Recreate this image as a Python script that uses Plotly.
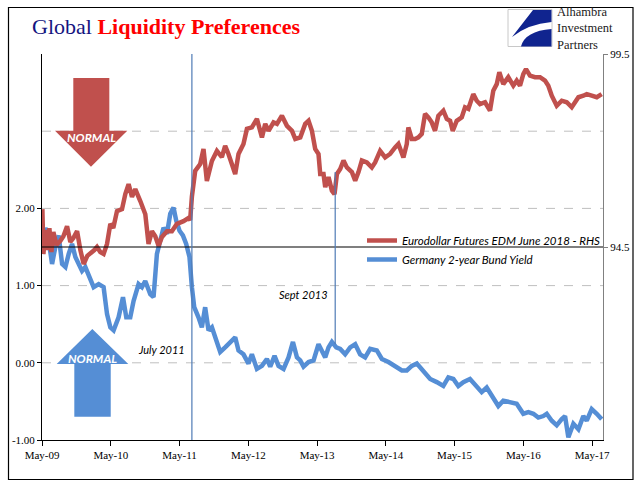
import pandas as pd
import plotly.graph_objects as go

# ---------------- data (decimal years -> values) ----------------
red_t = [2009.333, 2009.348, 2009.377, 2009.406, 2009.435, 2009.464, 2009.493, 2009.537, 2009.595, 2009.639,
         2009.692, 2009.740, 2009.784, 2009.838, 2009.886, 2009.934, 2009.987, 2010.031, 2010.089, 2010.128,
         2010.176, 2010.224, 2010.274, 2010.322, 2010.365, 2010.419, 2010.492, 2010.540, 2010.588, 2010.637,
         2010.685, 2010.758, 2010.831, 2010.878, 2010.928, 2010.976, 2011.024, 2011.073, 2011.146, 2011.218,
         2011.291, 2011.387, 2011.460, 2011.484, 2011.509, 2011.557, 2011.630, 2011.678, 2011.727, 2011.800,
         2011.873, 2011.945, 2011.993, 2012.041, 2012.139, 2012.187, 2012.259, 2012.309, 2012.381, 2012.454,
         2012.527, 2012.575, 2012.623, 2012.695, 2012.745, 2012.817, 2012.890, 2012.963, 2013.011, 2013.084,
         2013.156, 2013.204, 2013.253, 2013.301, 2013.349, 2013.374, 2013.422, 2013.447, 2013.495, 2013.544,
         2013.582, 2013.617, 2013.665, 2013.713, 2013.762, 2013.835, 2013.883, 2013.931, 2013.980, 2014.053,
         2014.125, 2014.173, 2014.246, 2014.319, 2014.391, 2014.464, 2014.512, 2014.585, 2014.634, 2014.657,
         2014.707, 2014.756, 2014.803, 2014.852, 2014.900, 2014.948, 2014.997, 2015.045, 2015.093, 2015.166,
         2015.216, 2015.264, 2015.303, 2015.361, 2015.434, 2015.482, 2015.530, 2015.602, 2015.652, 2015.700,
         2015.773, 2015.845, 2015.893, 2015.943, 2015.981, 2016.038, 2016.111, 2016.184, 2016.233, 2016.281,
         2016.329, 2016.368, 2016.426, 2016.499, 2016.572, 2016.644, 2016.692, 2016.742, 2016.814, 2016.887,
         2016.960, 2017.032, 2017.081, 2017.129, 2017.201, 2017.250, 2017.323, 2017.396, 2017.468]
red_v = [95.48, 94.32, 94.94, 94.42, 94.99, 94.37, 94.89, 94.55, 94.66, 94.78,
         95.04, 94.63, 94.73, 94.91, 94.42, 94.06, 94.27, 94.32, 94.42, 94.50,
         94.37, 94.32, 94.58, 95.10, 94.99, 95.43, 95.48, 95.87, 96.13, 95.80,
         96.00, 95.69, 95.35, 94.58, 94.91, 94.78, 94.53, 94.76, 94.91, 94.91,
         95.10, 95.17, 95.25, 95.20, 95.80, 96.47, 96.65, 97.04, 96.21, 96.73,
         96.99, 96.83, 97.12, 96.91, 96.39, 96.91, 97.17, 97.56, 97.60, 97.82,
         97.34, 97.69, 97.51, 97.73, 97.69, 97.90, 97.64, 97.51, 97.30, 97.34,
         97.69, 97.77, 97.51, 97.04, 96.91, 96.39, 96.39, 96.05, 96.31, 95.96,
         95.87, 96.39, 96.52, 96.74, 96.56, 96.44, 96.22, 96.44, 96.74, 96.69,
         96.56, 96.69, 96.99, 96.82, 96.91, 97.08, 97.17, 96.82, 97.17, 97.60,
         97.30, 97.30, 97.34, 97.43, 97.95, 97.86, 97.73, 97.51, 97.90, 98.03,
         97.82, 97.77, 97.51, 97.77, 97.86, 98.12, 98.08, 98.46, 98.29, 98.20,
         98.25, 98.03, 98.55, 98.72, 99.03, 98.72, 98.90, 98.68, 98.81, 98.68,
         98.98, 99.11, 98.94, 98.90, 98.90, 98.81, 98.68, 98.42, 98.16, 98.29,
         98.25, 98.12, 98.25, 98.38, 98.42, 98.46, 98.42, 98.38, 98.46]

blue_t = [2009.333, 2009.377, 2009.425, 2009.474, 2009.522, 2009.570, 2009.620, 2009.668, 2009.716, 2009.765,
          2009.813, 2009.861, 2009.910, 2009.958, 2010.006, 2010.079, 2010.152, 2010.224, 2010.274, 2010.322,
          2010.370, 2010.442, 2010.506, 2010.554, 2010.612, 2010.660, 2010.733, 2010.782, 2010.830, 2010.903,
          2010.951, 2011.000, 2011.048, 2011.096, 2011.146, 2011.194, 2011.242, 2011.281, 2011.329, 2011.378,
          2011.426, 2011.474, 2011.509, 2011.543, 2011.605, 2011.654, 2011.702, 2011.751, 2011.800, 2011.848,
          2011.921, 2011.993, 2012.041, 2012.066, 2012.139, 2012.187, 2012.259, 2012.332, 2012.381, 2012.454,
          2012.527, 2012.599, 2012.647, 2012.710, 2012.768, 2012.841, 2012.913, 2012.977, 2013.035, 2013.083,
          2013.131, 2013.204, 2013.277, 2013.349, 2013.399, 2013.447, 2013.495, 2013.544, 2013.607, 2013.665,
          2013.737, 2013.810, 2013.883, 2013.955, 2014.028, 2014.101, 2014.198, 2014.271, 2014.367, 2014.464,
          2014.562, 2014.634, 2014.707, 2014.780, 2014.876, 2014.974, 2015.070, 2015.166, 2015.239, 2015.312,
          2015.384, 2015.457, 2015.554, 2015.652, 2015.724, 2015.797, 2015.870, 2015.966, 2016.038, 2016.136,
          2016.233, 2016.329, 2016.402, 2016.475, 2016.547, 2016.620, 2016.669, 2016.742, 2016.814, 2016.887,
          2016.935, 2016.983, 2017.056, 2017.129, 2017.201, 2017.250, 2017.323, 2017.396, 2017.468]
blue_v = [1.41, 1.75, 1.58, 1.28, 1.50, 1.65, 1.28, 1.24, 1.41, 1.54,
          1.37, 1.28, 1.19, 1.24, 1.15, 0.98, 1.02, 0.98, 0.63, 0.46,
          0.42, 0.59, 0.85, 0.59, 0.59, 0.80, 1.02, 0.98, 1.06, 0.89,
          0.85, 1.41, 1.58, 1.75, 1.67, 1.93, 2.01, 1.84, 1.71, 1.65,
          1.54, 1.37, 0.98, 0.72, 0.59, 0.46, 0.72, 0.42, 0.46, 0.33,
          0.14, 0.20, 0.24, 0.27, 0.33, 0.16, 0.11, -0.01, 0.11, -0.08,
          -0.04, 0.05, -0.05, 0.09, -0.04, -0.08, 0.07, 0.27, 0.07, 0.03,
          -0.05, 0.01, 0.03, 0.24, 0.16, 0.07, 0.20, 0.27, 0.20, 0.18,
          0.11, 0.20, 0.24, 0.11, 0.07, 0.18, 0.16, 0.05, 0.01, -0.04,
          -0.10, -0.10, -0.04, -0.01, -0.10, -0.21, -0.25, -0.30, -0.19, -0.21,
          -0.30, -0.25, -0.21, -0.32, -0.38, -0.32, -0.43, -0.56, -0.49, -0.51,
          -0.53, -0.66, -0.64, -0.66, -0.71, -0.69, -0.66, -0.75, -0.81, -0.73,
          -0.69, -0.965, -0.79, -0.86, -0.69, -0.75, -0.60, -0.66, -0.73]

x_ticks_years = [2009, 2010, 2011, 2012, 2013, 2014, 2015, 2016, 2017]
left_ticks = [-1, 0, 1, 2]
left_ticktext = ["-1.00", "0.00", "1.00", "2.00"]
right_ticks = [94.5, 99.5]
right_ticktext = ["94.5", "99.5"]
left_grid = [0, 1, 2, 3]
x_range_start = "2009-04-30 12:00"
x_range_end_t = 2017.487
july2011_t = 2011.509
sept2013_t = 2013.592
sept2013_span = [0.24, 2.47]

RED = "#C0504D"
BLUE = "#558ED5"
SERIF = "Liberation Serif"
SANS = "Lato"


def to_date(t):
    y = int(t)
    start = pd.Timestamp(year=y, month=1, day=1)
    days = (pd.Timestamp(year=y + 1, month=1, day=1) - start).days
    return start + pd.Timedelta(days=(t - y) * days)


red_x = [to_date(t) for t in red_t]
blue_x = [to_date(t) for t in blue_t]

W, H = 641, 481
L, R, T, B = 42, 38, 54, 41
PW, PH = W - L - R, H - T - B


def px(x):
    return (x - L) / PW


def py(y):
    return (H - B - y) / PH


def path(points):
    return "M " + " L ".join(f"{px(a):.4f},{py(b):.4f}" for a, b in points) + " Z"


fig = go.Figure()
fig.add_trace(go.Scatter(x=blue_x, y=blue_v, mode="lines", name="<i>Germany 2-year Bund Yield</i>",
                         line=dict(color=BLUE, width=4.5), legendrank=2, yaxis="y"))
fig.add_trace(go.Scatter(x=red_x, y=red_v, mode="lines", name="<i>Eurodollar Futures EDM June 2018 - RHS</i>",
                         line=dict(color=RED, width=4.5), legendrank=1, yaxis="y2"))

shapes = []
for g in left_grid:
    shapes.append(dict(type="line", xref="paper", x0=0, x1=1, yref="y", y0=g, y1=g,
                       line=dict(color="#BFBFBF", width=1, dash="dash"), layer="below"))
shapes.append(dict(type="line", xref="paper", x0=0, x1=1, yref="y2", y0=94.5, y1=94.5,
                   line=dict(color="black", width=1.2)))
shapes.append(dict(type="line", xref="x", x0=to_date(july2011_t), x1=to_date(july2011_t), yref="paper", y0=0, y1=1,
                   line=dict(color="#4F7BB5", width=1.2)))
shapes.append(dict(type="line", xref="x", x0=to_date(sept2013_t), x1=to_date(sept2013_t), yref="y",
                   y0=sept2013_span[0], y1=sept2013_span[1], line=dict(color="#4F7BB5", width=1.2)))
# arrows
shapes.append(dict(type="path", xref="paper", yref="paper", fillcolor=RED, line=dict(width=0),
                   path=path([(73.3, 78), (109.3, 78), (109.3, 130.7), (127.3, 130.7), (91, 166.7),
                              (55, 130.7), (73.3, 130.7)])))
shapes.append(dict(type="path", xref="paper", yref="paper", fillcolor=BLUE, line=dict(width=0),
                   path=path([(92.3, 329), (128.3, 364), (110.7, 364), (110.7, 416.7), (74.3, 416.7),
                              (74.3, 364), (56.7, 364)])))
# outer frame
shapes.append(dict(type="rect", xref="paper", yref="paper", x0=px(8.5), x1=px(633), y0=py(479.5), y1=py(7.5),
                   line=dict(color="black", width=1.2)))
# logo
shapes.append(dict(type="rect", xref="paper", yref="paper", x0=px(508), x1=px(552), y0=py(46.5), y1=py(9.5),
                   line=dict(color="#C8C8C8", width=1), fillcolor="white"))
shapes.append(dict(type="path", xref="paper", yref="paper", fillcolor="#10248F", line=dict(width=0),
                   path="M {0},{1} L {2},{1} L {3},{4} Q {5},{6} {7},{8} Z".format(
                       f"{px(551.5):.4f}", f"{py(10):.4f}", f"{px(533):.4f}", f"{px(512):.4f}", f"{py(37):.4f}",
                       f"{px(528):.4f}", f"{py(24):.4f}", f"{px(551.5):.4f}", f"{py(22):.4f}")))
shapes.append(dict(type="path", xref="paper", yref="paper", fillcolor="#10248F", line=dict(width=0),
                   path="M {0},{1} Q {2},{3} {4},{5} L {4},{1} Z".format(
                       f"{px(521):.4f}", f"{py(46.5):.4f}", f"{px(525):.4f}", f"{py(31):.4f}",
                       f"{px(551.5):.4f}", f"{py(29):.4f}")))

annotations = [
    dict(xref="paper", yref="paper", x=px(30), y=py(27), xanchor="left", yanchor="middle", showarrow=False,
         text="<span style='color:#14147F'>Global</span> <b><span style='color:#FF0000'>Liquidity Preferences</span></b>",
         font=dict(family=SERIF, size=22)),
    dict(xref="paper", yref="paper", x=px(555), y=py(29), xanchor="left", yanchor="middle", showarrow=False,
         align="left", text="Alhambra<br>Investment<br>Partners",
         font=dict(family=SERIF, size=12.5, color="#1A1A1A")),
    dict(xref="paper", yref="paper", x=px(91), y=py(137), xanchor="center", yanchor="middle", showarrow=False,
         text="<b><i>NORMAL</i></b>", font=dict(family=SANS, size=12, color="white")),
    dict(xref="paper", yref="paper", x=px(92), y=py(358), xanchor="center", yanchor="middle", showarrow=False,
         text="<b><i>NORMAL</i></b>", font=dict(family=SANS, size=12, color="white")),
    dict(xref="paper", yref="paper", x=px(187), y=py(349), xanchor="right", yanchor="middle", showarrow=False,
         text="<i>July 2011</i>", font=dict(family=SANS, size=11, color="black")),
    dict(xref="paper", yref="paper", x=px(330), y=py(294), xanchor="right", yanchor="middle", showarrow=False,
         text="<i>Sept 2013</i>", font=dict(family=SANS, size=11, color="black")),
]

fig.update_layout(
    width=W, height=H, margin=dict(l=L, r=R, t=T, b=B),
    paper_bgcolor="white", plot_bgcolor="white",
    showlegend=True,
    legend=dict(x=px(362), y=py(226), xanchor="left", yanchor="top", bgcolor="rgba(0,0,0,0)",
                font=dict(family=SANS, size=11.5, color="black"), itemwidth=30, tracegroupgap=0),
    xaxis=dict(type="date", range=[pd.Timestamp(x_range_start), to_date(x_range_end_t)],
               tickvals=[pd.Timestamp(year=y, month=5, day=1) for y in x_ticks_years],
               tickformat="%b-%y", ticks="outside", ticklen=5, tickcolor="black",
               showline=True, linecolor="black", linewidth=1, showgrid=False, zeroline=False,
               tickfont=dict(family=SERIF, size=11, color="black")),
    yaxis=dict(range=[-1, 4], tickvals=left_ticks, ticktext=left_ticktext, ticks="outside", ticklen=4,
               tickcolor="black", showline=True, linecolor="black", linewidth=1, showgrid=False, zeroline=False,
               tickfont=dict(family=SERIF, size=11, color="black")),
    yaxis2=dict(range=[89.5, 99.5], overlaying="y", side="right", tickvals=right_ticks, ticktext=right_ticktext,
                ticks="outside", ticklen=4, tickcolor="#808080", showline=True, linecolor="#808080", linewidth=1,
                showgrid=False, zeroline=False, tickfont=dict(family=SERIF, size=11, color="black")),
    shapes=shapes,
    annotations=annotations,
)

fig.write_html("out.html", config={"displayModeBar": False},
               post_script="document.body.style.margin='0px';document.body.style.padding='0px';")
